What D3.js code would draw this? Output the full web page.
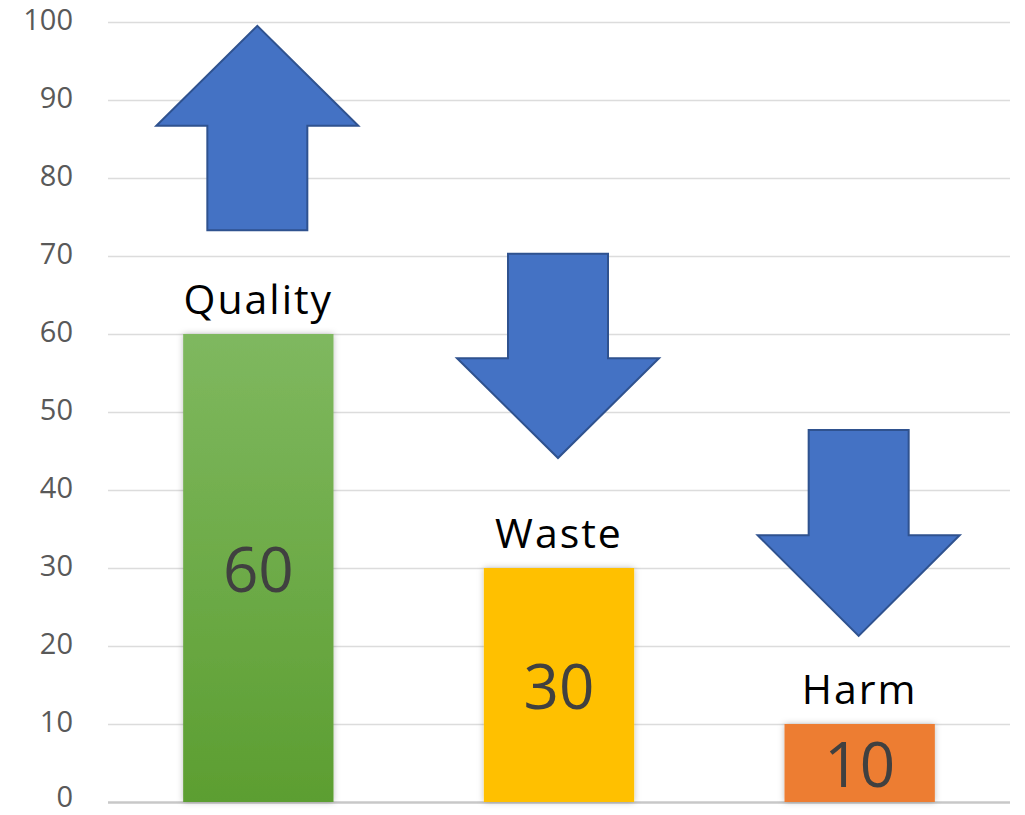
<!DOCTYPE html>
<html>
<head>
<meta charset="utf-8">
<script src="https://cdn.jsdelivr.net/npm/d3@7"></script>
<style>
  body { margin: 0; background: #fff; }
  svg { display: block; }
</style>
</head>
<body>
<svg id="chart" width="1025" height="815"></svg>
<script>
// chart data
var categories = ["Quality", "Waste", "Harm"];
var values = [60, 30, 10];
var barColors = ["#70AD47", "#FFC000", "#ED7D31"];
var yTicks = [0, 10, 20, 30, 40, 50, 60, 70, 80, 90, 100];

// arrows: where the shaft starts and where the tip ends (value units)
var arrowFrom = [73.3, 70.3, 47.7];
var arrowTo = [99.5, 44.1, 21.3];
var arrowHead = [12.8, 12.8, 12.9];

var svg = d3.select("#chart");

var x = d3.scaleBand()
    .domain(categories)
    .range([108, 1010])
    .paddingInner(0.5)
    .paddingOuter(0.25);

var y = d3.scaleLinear()
    .domain([0, 100])
    .range([802, 22]);

var defs = svg.append("defs");

var grad = defs.append("linearGradient")
    .attr("id", "greenGrad")
    .attr("x1", 0).attr("y1", 0).attr("x2", 0).attr("y2", 1);
grad.append("stop").attr("offset", "0%").attr("stop-color", "#7FB85F");
grad.append("stop").attr("offset", "100%").attr("stop-color", "#5C9E31");

var shadow = defs.append("filter")
    .attr("id", "barShadow")
    .attr("x", "-10%").attr("y", "-10%")
    .attr("width", "120%").attr("height", "120%");
shadow.append("feDropShadow")
    .attr("dx", 0).attr("dy", 0)
    .attr("stdDeviation", 3)
    .attr("flood-color", "#000")
    .attr("flood-opacity", 0.25);

// gridlines + tick labels
var yAxis = d3.axisLeft(y)
    .tickValues(yTicks)
    .tickSize(-(1010 - 108))
    .tickPadding(35);

var gAxis = svg.append("g")
    .attr("transform", "translate(108,0)")
    .call(yAxis);

gAxis.select(".domain").remove();
gAxis.selectAll(".tick line")
    .attr("stroke", function(d) { return d == 0 ? "#C8C8C8" : "#DCDCDC"; })
    .attr("stroke-width", function(d) { return d == 0 ? 2.5 : 1.5; });
gAxis.selectAll(".tick text")
    .attr("fill", "#595959")
    .attr("dy", "0.3em")
    .attr("y", function(d) { return d == 0 ? -4 : -1; })
    .style("font-family", "'Open Sans', sans-serif")
    .style("font-size", "29px");

// bars
svg.selectAll("rect.bar")
    .data(values)
    .enter().append("rect")
    .attr("class", "bar")
    .attr("x", function(d, i) { return x(categories[i]); })
    .attr("y", function(d) { return y(d); })
    .attr("width", x.bandwidth())
    .attr("height", function(d) { return y(0) - y(d); })
    .attr("fill", function(d, i) { return i == 0 ? "url(#greenGrad)" : barColors[i]; })
    .attr("filter", "url(#barShadow)");

// value labels inside bars
svg.selectAll("text.value")
    .data(values)
    .enter().append("text")
    .attr("class", "value")
    .attr("x", function(d, i) { return x(categories[i]) + x.bandwidth() / 2; })
    .attr("y", function(d) { return y(d / 2); })
    .attr("dy", "0.38em")
    .attr("text-anchor", "middle")
    .attr("fill", "#404040")
    .style("font-family", "'Open Sans', sans-serif")
    .style("font-size", "62px")
    .text(function(d) { return d; });

// category labels above bars
svg.selectAll("text.cat")
    .data(values)
    .enter().append("text")
    .attr("class", "cat")
    .attr("x", function(d, i) { return x(categories[i]) + x.bandwidth() / 2; })
    .attr("y", function(d) { return y(d) - 20; })
    .attr("text-anchor", "middle")
    .attr("fill", "#000")
    .style("font-family", "'Open Sans', sans-serif")
    .style("font-size", "41px")
    .style("letter-spacing", "2px")
    .text(function(d, i) { return categories[i]; });

// block arrows
function arrowPath(i) {
    var cx = x(categories[i]) + x.bandwidth() / 2 - 1;
    var shaftHalf = 50, headHalf = 101;
    var y0 = y(arrowFrom[i]), y1 = y(arrowTo[i]);
    var dir = arrowTo[i] > arrowFrom[i] ? 1 : -1;
    var yh = y(arrowTo[i] - dir * arrowHead[i]);
    return "M" + (cx - shaftHalf) + "," + y0 +
        "L" + (cx + shaftHalf) + "," + y0 +
        "L" + (cx + shaftHalf) + "," + yh +
        "L" + (cx + headHalf) + "," + yh +
        "L" + cx + "," + y1 +
        "L" + (cx - headHalf) + "," + yh +
        "L" + (cx - shaftHalf) + "," + yh + "Z";
}

svg.selectAll("path.arrow")
    .data(arrowFrom)
    .enter().append("path")
    .attr("class", "arrow")
    .attr("d", function(d, i) { return arrowPath(i); })
    .attr("fill", "#4472C4")
    .attr("stroke", "#2F528F")
    .attr("stroke-width", 2)
    .attr("stroke-linejoin", "miter");
</script>
</body>
</html>
